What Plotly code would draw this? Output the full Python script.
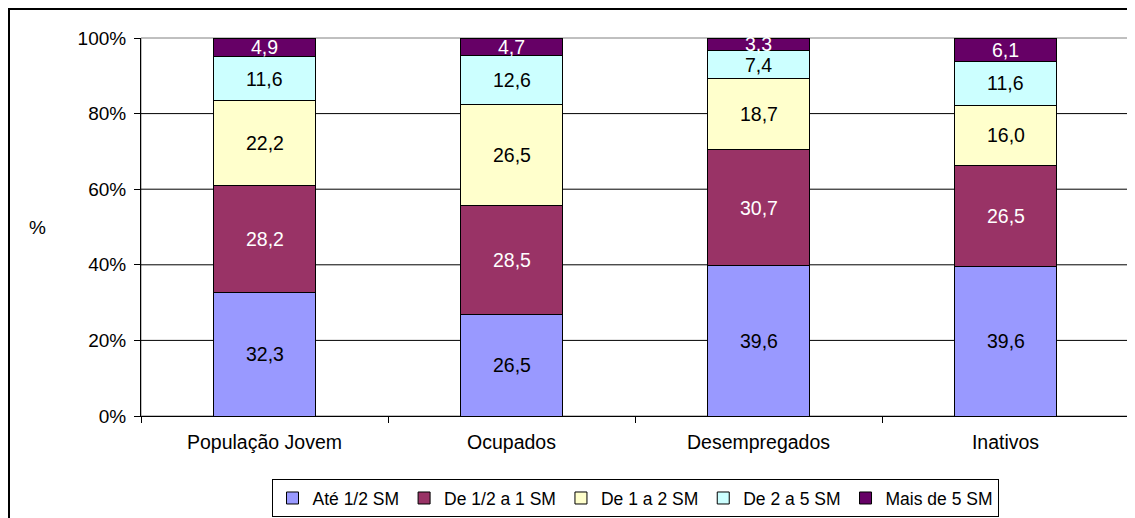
import plotly.graph_objects as go
import numpy as np

categories = ["População Jovem", "Ocupados", "Desempregados", "Inativos"]
series_names = ["Até 1/2 SM", "De 1/2 a 1 SM", "De 1 a 2 SM", "De 2 a 5 SM", "Mais de 5 SM"]
ate_meio = [32.3, 26.5, 39.6, 39.6]
meio_a_um = [28.2, 28.5, 30.7, 26.5]
um_a_dois = [22.2, 26.5, 18.7, 16.0]
dois_a_cinco = [11.6, 12.6, 7.4, 11.6]
mais_cinco = [4.9, 4.7, 3.3, 6.1]
y_ticks = [0, 20, 40, 60, 80, 100]
y_tick_labels = ["0%", "20%", "40%", "60%", "80%", "100%"]

series_values = [ate_meio, meio_a_um, um_a_dois, dois_a_cinco, mais_cinco]
colors = ["#9999FF", "#993366", "#FFFFCC", "#CCFFFF", "#660066"]
text_colors = ["black", "white", "black", "black", "white"]
FONT = "Liberation Sans, Arial, sans-serif"

fig = go.Figure()
for name, vals, col in zip(series_names, series_values, colors):
    fig.add_trace(go.Bar(
        x=categories, y=vals, name=name, width=0.41,
        marker=dict(color=col, line=dict(color="black", width=1)),
        textposition="none", hoverinfo="x+y+name",
    ))

# labels centred in the normalised segments
arr = np.array(series_values, dtype=float)
totals = arr.sum(axis=0)
norm = arr / totals * 100
cum = np.cumsum(norm, axis=0)
mids = cum - norm / 2
annotations = []
for i in range(arr.shape[0]):
    for j, cat in enumerate(categories):
        annotations.append(dict(
            x=cat, y=mids[i, j], xref="x", yref="y",
            text=f"{arr[i, j]:.1f}".replace(".", ","), showarrow=False,
            font=dict(family=FONT, size=19.5, color=text_colors[i]),
            xanchor="center", yanchor="middle",
        ))
annotations.append(dict(
    x=-0.105, y=0.5, xref="paper", yref="paper", text="%", showarrow=False,
    font=dict(family=FONT, size=19, color="black"), xanchor="center", yanchor="middle",
))

shapes = []
# plot area border (gray)
shapes.append(dict(type="rect", xref="paper", yref="paper", x0=0, x1=1, y0=0, y1=1,
                   line=dict(color="#808080", width=1), layer="below"))
# gridlines
for v in y_ticks[1:-1]:
    shapes.append(dict(type="line", xref="paper", yref="y", x0=0, x1=1, y0=v, y1=v,
                       line=dict(color="black", width=1), layer="below"))
# outer chart border
shapes.append(dict(type="rect", xref="paper", yref="paper",
                   x0=-0.1336, x1=1.004, y0=-0.35, y1=1.0767,
                   line=dict(color="black", width=2), layer="below"))

fig.update_layout(
    barmode="stack", barnorm="percent",
    width=1127, height=510,
    margin=dict(l=133, r=6, t=30, b=102, autoexpand=False),
    paper_bgcolor="white", plot_bgcolor="white",
    font=dict(family=FONT, size=19, color="black"),
    showlegend=True,
    legend=dict(orientation="h", x=0.5, xanchor="center",
                yref="container", y=0.039, yanchor="middle",
                bordercolor="black", borderwidth=1, font=dict(size=17.5),
                itemwidth=30, traceorder="normal", tracegroupgap=0),
    annotations=annotations, shapes=shapes,
)
fig.update_xaxes(showline=True, linecolor="black", linewidth=1, ticks="outside",
                 tickson="boundaries", ticklen=6, tickcolor="black", showgrid=False,
                 ticklabelstandoff=9, tickfont=dict(size=19.5))
fig.update_yaxes(range=[0, 100], tickvals=y_ticks, ticktext=y_tick_labels, showgrid=False,
                 showline=True, linecolor="black", linewidth=1, ticks="outside", ticklen=6,
                 tickcolor="black", zeroline=False, ticklabelstandoff=4, tickfont=dict(size=19))

fig.write_html("out.html")
